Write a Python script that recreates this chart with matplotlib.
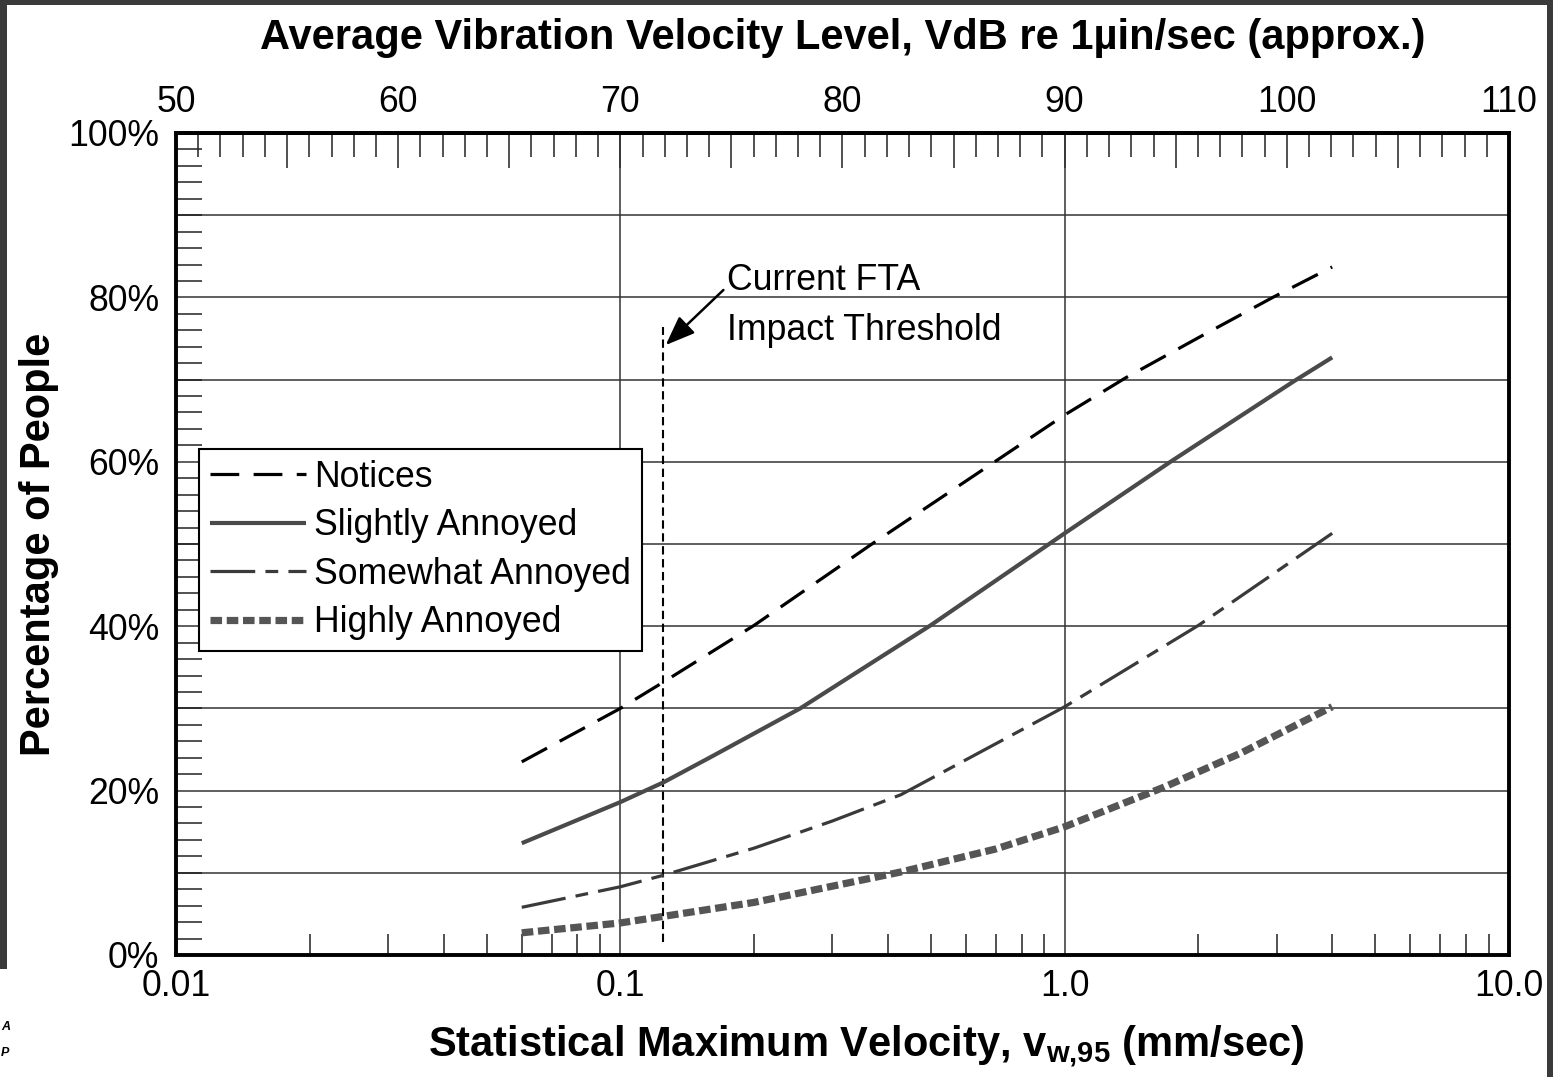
import numpy as np
import matplotlib
matplotlib.use("Agg")
import matplotlib.pyplot as plt
from matplotlib.patches import Rectangle
from matplotlib.ticker import FixedLocator, NullFormatter, FuncFormatter

plt.rcParams['font.family'] = ['Liberation Sans', 'DejaVu Sans']
plt.rcParams['mathtext.fontset'] = 'custom'
plt.rcParams['mathtext.bf'] = 'Liberation Sans:bold'
plt.rcParams['mathtext.rm'] = 'Liberation Sans'

# ---- data ----
notices_v = [0.06, 0.1, 0.125, 0.2, 0.366, 1.0, 1.37, 2.0, 2.94, 4.0]
notices_p = [23.5, 30.0, 33.2, 40.1, 49.9, 65.7, 70.2, 75.1, 80.0, 83.7]

slightly_v = [0.06, 0.1, 0.125, 0.16, 0.254, 0.35, 0.499, 1.0, 1.73, 3.28, 4.0]
slightly_p = [13.6, 18.6, 21.0, 24.1, 30.0, 34.8, 40.1, 51.3, 60.0, 69.8, 72.7]

somewhat_v = [0.06, 0.1, 0.125, 0.2, 0.3, 0.428, 1.0, 2.0, 4.0]
somewhat_p = [5.8, 8.3, 9.7, 13.0, 16.3, 19.5, 30.2, 40.1, 51.3]

highly_v = [0.06, 0.1, 0.125, 0.2, 0.428, 0.7, 1.0, 1.67, 2.5, 4.0]
highly_p = [2.7, 3.9, 4.7, 6.4, 10.1, 12.9, 15.6, 20.4, 24.6, 30.2]

threshold_v = 0.125
threshold_span = [1.6, 76.4]

x_ticks = [0.01, 0.1, 1.0, 10.0]
x_ticklabels = ['0.01', '0.1', '1.0', '10.0']
y_ticks = [0, 20, 40, 60, 80, 100]
y_ticklabels = ['0%', '20%', '40%', '60%', '80%', '100%']

W, H = 1553, 1077
fig = plt.figure(figsize=(W / 100, H / 100), dpi=100)
fig.patch.set_facecolor('white')

# dark frame strips of the screenshot
fig.patches.append(Rectangle((0, 1 - 5 / H), 1, 5 / H, transform=fig.transFigure,
                             facecolor='#3a3a3a', edgecolor='none', zorder=0))
fig.patches.append(Rectangle((0, 1 - 969 / H), 7 / W, 969 / H, transform=fig.transFigure,
                             facecolor='#3a3a3a', edgecolor='none', zorder=0))
fig.patches.append(Rectangle((1547 / W, 0), 6 / W, 1, transform=fig.transFigure,
                             facecolor='#3a3a3a', edgecolor='none', zorder=0))
fig.text(1 / W, 1 - 1027 / H, 'A', ha='left', va='center', fontsize=9,
         style='italic', fontweight='bold')
fig.text(1 / W, 1 - 1053 / H, 'P', ha='left', va='center', fontsize=9,
         style='italic', fontweight='bold')

ax = fig.add_axes([176 / W, 1 - 955 / H, 1333 / W, 822 / H])
ax.set_xscale('log')
ax.set_xlim(0.01, 10)
ax.set_ylim(0, 100)

# grid
for gx in [0.1, 1.0]:
    ax.axvline(gx, color='#333333', lw=1.1, zorder=1)
for gy in range(10, 100, 10):
    ax.axhline(gy, color='#333333', lw=1.1, zorder=1)

# curves
ax.plot(notices_v, notices_p, color='black', lw=2.3, dashes=(9, 4.5),
        label='Notices', zorder=3)
ax.plot(slightly_v, slightly_p, color='#4a4a4a', lw=3.0, solid_capstyle='butt',
        label='Slightly Annoyed', zorder=3)
ax.plot(somewhat_v, somewhat_p, color='#3a3a3a', lw=2.3,
        dashes=(14, 3.2, 4, 3.2), label='Somewhat Annoyed', zorder=3)
ax.plot(highly_v, highly_p, color='#555555', lw=5.2, dashes=(1.6, 0.65),
        dash_capstyle='butt', label='Highly Annoyed', zorder=3)

# threshold line + annotation
ax.plot([threshold_v, threshold_v], threshold_span, color='black', lw=1.5,
        dashes=(4, 2.2), zorder=2)
ax.annotate('', xy=(0.1265, 74.2), xytext=(0.1706, 80.9),
            arrowprops=dict(arrowstyle='-|>,head_length=0.9,head_width=0.35',
                            color='black', lw=1.8, shrinkA=0, shrinkB=0,
                            mutation_scale=20), zorder=4)
ax.text(0.174, 80.9, 'Current FTA', fontsize=25.7, va='baseline', ha='left')
ax.text(0.174, 74.8, 'Impact Threshold', fontsize=25.7, va='baseline', ha='left')

# spines
for s in ax.spines.values():
    s.set_linewidth(2.8)
    s.set_color('black')
    s.set_zorder(5)

# bottom axis ticks
ax.xaxis.set_major_locator(FixedLocator(x_ticks))
ax.set_xticklabels(x_ticklabels)
minors = [m * 10.0 ** e for e in (-2, -1, 0) for m in range(2, 10)]
ax.xaxis.set_minor_locator(FixedLocator(minors))
ax.xaxis.set_minor_formatter(NullFormatter())
ax.tick_params(axis='x', which='major', direction='in', length=0, labelsize=25.7, pad=10)
ax.tick_params(axis='x', which='minor', direction='in', length=15, width=1.1, color='#222222')

# left axis ticks
ax.yaxis.set_major_locator(FixedLocator(y_ticks))
ax.set_yticklabels(y_ticklabels)
ax.yaxis.set_minor_locator(FixedLocator(list(range(0, 101, 2))))
ax.tick_params(axis='y', which='major', direction='in', length=0, labelsize=25.7, pad=12)
ax.tick_params(axis='y', which='minor', direction='in', length=19, width=1.1, color='#222222')

# top VdB axis
def v_to_vdb(v):
    v = np.asarray(v, dtype=float)
    return 20 * np.log10(np.clip(v, 1e-12, None)) + 90

def vdb_to_v(d):
    d = np.asarray(d, dtype=float)
    return 10 ** ((d - 90) / 20)

sec = ax.secondary_xaxis('top', functions=(v_to_vdb, vdb_to_v))
sec.xaxis.set_major_locator(FixedLocator(list(range(50, 111, 5))))
sec.xaxis.set_major_formatter(FuncFormatter(
    lambda x, p: f'{int(round(x))}' if int(round(x)) % 10 == 0 else ''))
sec.xaxis.set_minor_locator(FixedLocator(list(range(50, 111, 1))))
sec.xaxis.set_minor_formatter(NullFormatter())
sec.tick_params(which='major', direction='in', length=25, width=1.1, labelsize=25.7,
                pad=9, color='#222222')
sec.tick_params(which='minor', direction='in', length=17, width=1.1, color='#222222')
sec.spines['top'].set_linewidth(2.8)
sec.set_xlabel('Average Vibration Velocity Level, VdB re 1\u00b5in/sec (approx.)',
               fontsize=30, fontweight='bold', labelpad=26)

ax.set_xlabel(r'Statistical Maximum Velocity, $\mathbf{v}_{\mathbf{w{,}95}}$ (mm/sec)',
              fontsize=30, fontweight='bold', labelpad=14)
ax.xaxis.label.set_x((866 - 176) / 1333)
ax.set_ylabel('Percentage of People', fontsize=30, fontweight='bold', labelpad=7)

leg = ax.legend(loc='upper left', bbox_to_anchor=(23 / 1333, (955 - 449) / 822),
                borderaxespad=0, fontsize=25.7, handlelength=2.7, handletextpad=0.22,
                borderpad=0.3, labelspacing=0.38, frameon=True, fancybox=False,
                edgecolor='black', framealpha=1)
leg.get_frame().set_linewidth(1.5)
leg.set_zorder(6)

fig.savefig('out.png', dpi=100, facecolor='white')
